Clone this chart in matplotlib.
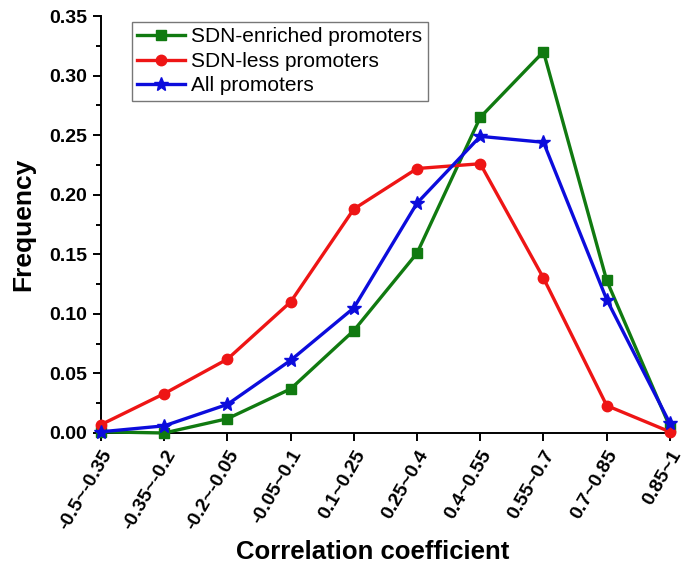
import matplotlib
import matplotlib.pyplot as plt
from matplotlib.ticker import MultipleLocator, FormatStrFormatter

matplotlib.use("Agg")

plt.rcParams["font.family"] = ["Liberation Sans", "DejaVu Sans"]

categories = [
    "-0.5~-0.35", "-0.35~-0.2", "-0.2~-0.05", "-0.05~0.1", "0.1~0.25",
    "0.25~0.4", "0.4~0.55", "0.55~0.7", "0.7~0.85", "0.85~1",
]
sdn_enriched = [0.001, 0.000, 0.012, 0.037, 0.086, 0.151, 0.265, 0.320, 0.128, 0.005]
sdn_less = [0.007, 0.033, 0.062, 0.110, 0.188, 0.222, 0.226, 0.130, 0.023, 0.001]
all_promoters = [0.001, 0.006, 0.024, 0.061, 0.105, 0.193, 0.249, 0.244, 0.112, 0.008]

fig = plt.figure(figsize=(6.85, 5.66), dpi=100)
ax = fig.add_axes([0.1474, 0.235, 0.8306, 0.7367])

x = list(range(len(categories)))
ax.plot(x, sdn_enriched, color="#107a10", lw=2.4, marker="s", ms=7.5,
        label="SDN-enriched promoters", clip_on=False, zorder=3)
ax.plot(x, sdn_less, color="#ee1515", lw=2.4, marker="o", ms=7.5,
        label="SDN-less promoters", clip_on=False, zorder=3)
ax.plot(x, all_promoters, color="#0c0cdc", lw=2.4, marker="*", ms=10,
        label="All promoters", clip_on=False, zorder=4)

ax.set_xlim(0, len(categories) - 1)
ax.set_ylim(0, 0.35)
ax.set_xticks(x)
ax.set_xticklabels(categories, rotation=60, ha="right", rotation_mode="anchor",
                   fontsize=14, fontweight="bold")
ax.yaxis.set_major_locator(MultipleLocator(0.05))
ax.yaxis.set_minor_locator(MultipleLocator(0.025))
ax.yaxis.set_major_formatter(FormatStrFormatter("%.2f"))
for label in ax.get_yticklabels():
    label.set_fontsize(14)
    label.set_fontweight("bold")

ax.spines["top"].set_visible(False)
ax.spines["right"].set_visible(False)
ax.spines["left"].set_linewidth(1.4)
ax.spines["bottom"].set_linewidth(1.4)
ax.tick_params(axis="both", which="major", direction="out", length=6, width=1.4, pad=4)
ax.tick_params(axis="y", which="minor", direction="out", length=3.5, width=1.4)

ax.set_ylabel("Frequency", fontsize=19, fontweight="bold", labelpad=10)
ax.set_xlabel("Correlation coefficient", fontsize=18.5, fontweight="bold", labelpad=5)
ax.xaxis.label.set_x(0.477)

leg = ax.legend(loc="upper left", bbox_to_anchor=(0.0545, 0.985), fontsize=15,
                frameon=True, fancybox=False, edgecolor="#555555",
                handlelength=2.3, handletextpad=0.3, labelspacing=0.26,
                borderpad=0.25, borderaxespad=0)
leg.get_frame().set_linewidth(1.0)

fig.savefig("out.png", dpi=100)
plt.close(fig)
